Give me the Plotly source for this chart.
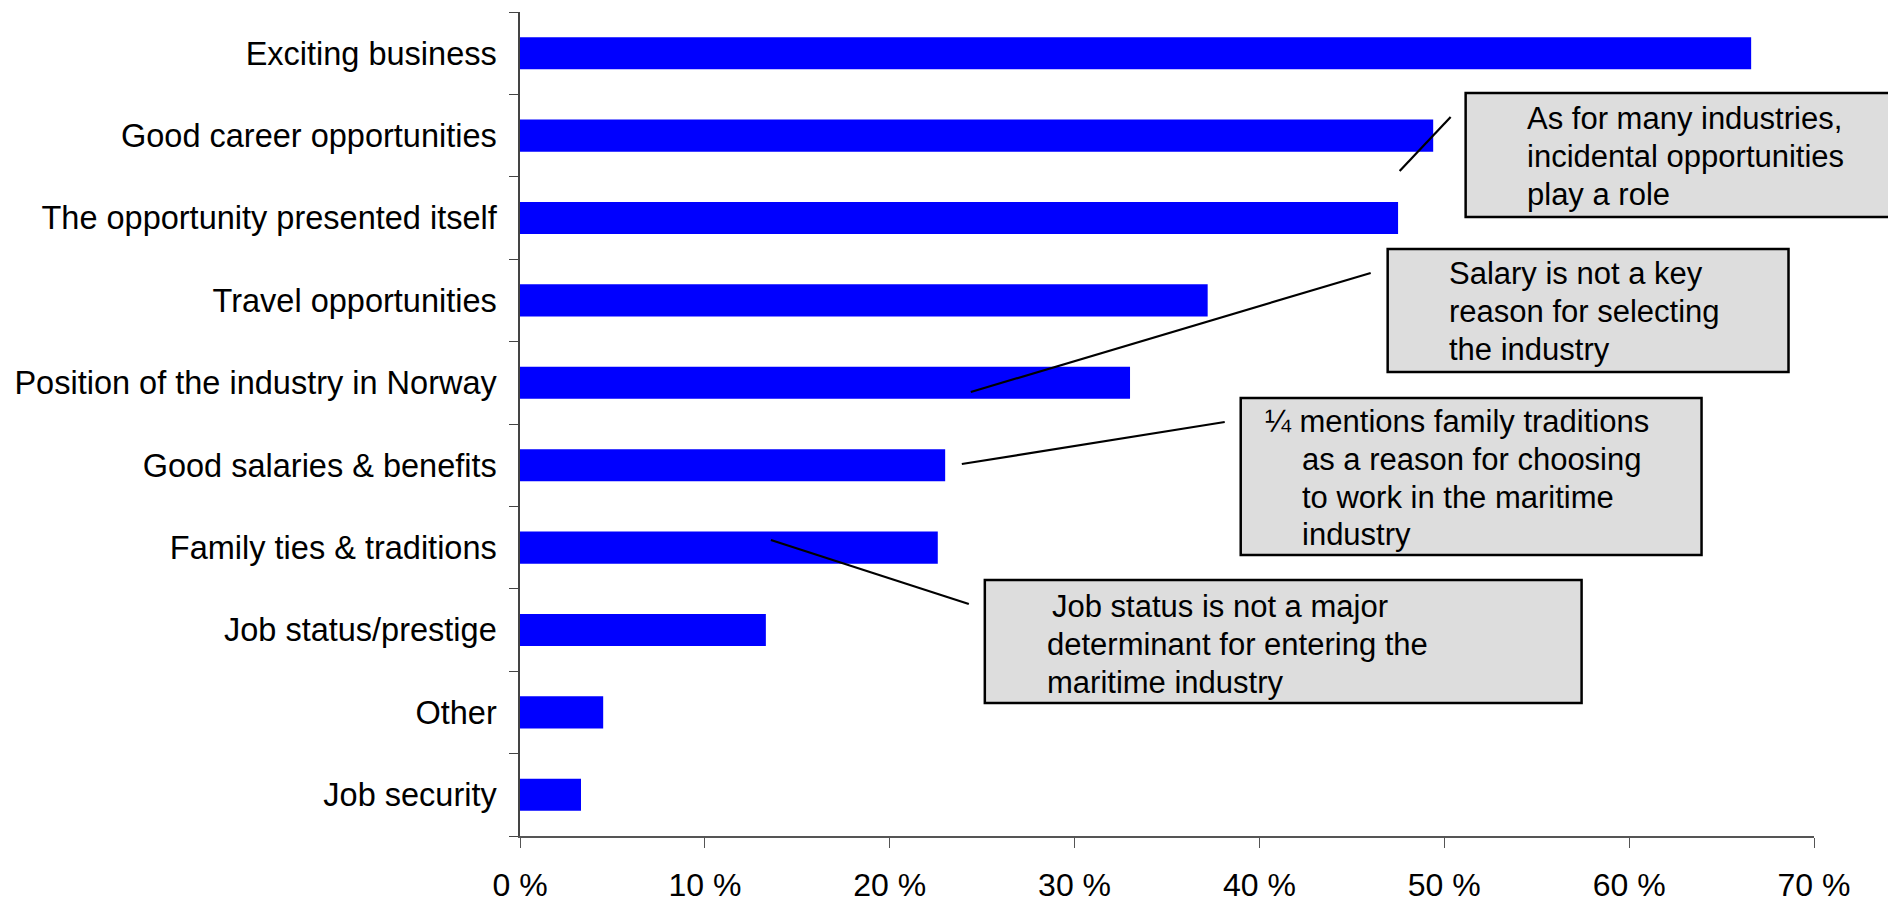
import plotly.graph_objects as go

# Reasons for choosing the maritime industry (share of respondents, %)
categories = [
    "Exciting business",
    "Good career opportunities",
    "The opportunity presented itself",
    "Travel opportunities",
    "Position of the industry in Norway",
    "Good salaries & benefits",
    "Family ties & traditions",
    "Job status/prestige",
    "Other",
    "Job security",
]
shares = [66.6, 49.4, 47.5, 37.2, 33.0, 23.0, 22.6, 13.3, 4.5, 3.3]

x_tick_values = [0, 10, 20, 30, 40, 50, 60, 70]
x_tick_labels = ["0 %", "10 %", "20 %", "30 %", "40 %", "50 %", "60 %", "70 %"]

# Comment boxes: text lines of each box
box_texts = [
    ["As for many industries,", "incidental opportunities", "play a role"],
    ["Salary is not a key", "reason for selecting", "the industry"],
    ["\u00bc mentions family traditions", "as a reason for choosing", "to work in the maritime", "industry"],
    ["Job status is not a major", "determinant for entering the", "maritime industry"],
]

# ---- page geometry (pixels) ----
W_PAGE, H_PAGE = 1888, 905
LEFT, RIGHT, TOP, BOTTOM = 520, 1814.5, 12, 836
FONT = "Liberation Sans, Arial, sans-serif"


def px(x):
    return (x - LEFT) / (RIGHT - LEFT)


def py(y):
    return (BOTTOM - y) / (BOTTOM - TOP)


fig = go.Figure(
    go.Bar(
        x=shares,
        y=categories,
        orientation="h",
        marker=dict(color="#0000FF", line=dict(width=0)),
        hoverinfo="x+y",
    )
)

# box rectangles (x0, y0, x1, y1), text left edges per line, line centres
box_geom = [
    dict(rect=(1466, 93, 1892, 217), xs=[1525, 1525, 1525], ys=[118.5, 157, 195]),
    dict(rect=(1388, 249, 1789, 372), xs=[1447, 1447, 1447], ys=[273, 311.5, 349.5]),
    dict(rect=(1241, 398, 1702, 555), xs=[1263, 1300, 1300, 1300], ys=[421.5, 459.5, 497.5, 534.5]),
    dict(rect=(985, 580, 1582, 703), xs=[1050, 1045, 1045], ys=[606.5, 644.5, 682.5]),
]

# leader lines from the bars to the boxes
leaders = [
    ((1400, 171), (1451, 117)),
    ((971, 392), (1371, 273)),
    ((962, 464), (1225, 422)),
    ((771, 540), (969, 604)),
]

shapes = []
annotations = []
for (a, b) in leaders:
    shapes.append(dict(
        type="line", xref="paper", yref="paper",
        x0=px(a[0]), y0=py(a[1]), x1=px(b[0]), y1=py(b[1]),
        line=dict(color="black", width=2.2),
    ))

for geom, lines in zip(box_geom, box_texts):
    x0, y0, x1, y1 = geom["rect"]
    shapes.append(dict(
        type="rect", xref="paper", yref="paper",
        x0=px(x0), y0=py(y1), x1=px(x1), y1=py(y0),
        fillcolor="#DDDDDD", line=dict(color="black", width=2.5),
        layer="above",
    ))
    for txt, tx, ty in zip(lines, geom["xs"], geom["ys"]):
        annotations.append(dict(
            text=txt, xref="paper", yref="paper",
            x=px(tx), y=py(ty), xanchor="left", yanchor="middle",
            showarrow=False, font=dict(family=FONT, size=31, color="black"),
        ))

fig.update_layout(
    width=W_PAGE,
    height=H_PAGE,
    margin=dict(l=LEFT, r=W_PAGE - RIGHT, t=TOP, b=H_PAGE - BOTTOM, pad=0),
    paper_bgcolor="white",
    plot_bgcolor="white",
    showlegend=False,
    bargap=0.61,
    font=dict(family=FONT, size=33, color="black"),
    shapes=shapes,
    annotations=annotations,
    xaxis=dict(
        range=[0, 70],
        tickmode="array",
        tickvals=x_tick_values,
        ticktext=x_tick_labels,
        showgrid=False,
        zeroline=False,
        showline=True,
        linecolor="#555555",
        linewidth=1.5,
        ticks="outside",
        ticklen=10,
        tickcolor="#555555",
        tickwidth=1.2,
        tickfont=dict(family=FONT, size=32, color="black"),
        ticklabelstandoff=10,
        automargin=False,
        fixedrange=True,
    ),
    yaxis=dict(
        categoryorder="array",
        categoryarray=categories[::-1],
        showgrid=False,
        zeroline=False,
        showline=True,
        linecolor="#444444",
        linewidth=1.5,
        ticks="outside",
        ticklen=9,
        tickcolor="#444444",
        tickwidth=1.2,
        tickson="boundaries",
        tickfont=dict(family=FONT, size=32.5, color="black"),
        ticklabelstandoff=15,
        automargin=False,
        fixedrange=True,
    ),
)

fig.write_html("out.html")
